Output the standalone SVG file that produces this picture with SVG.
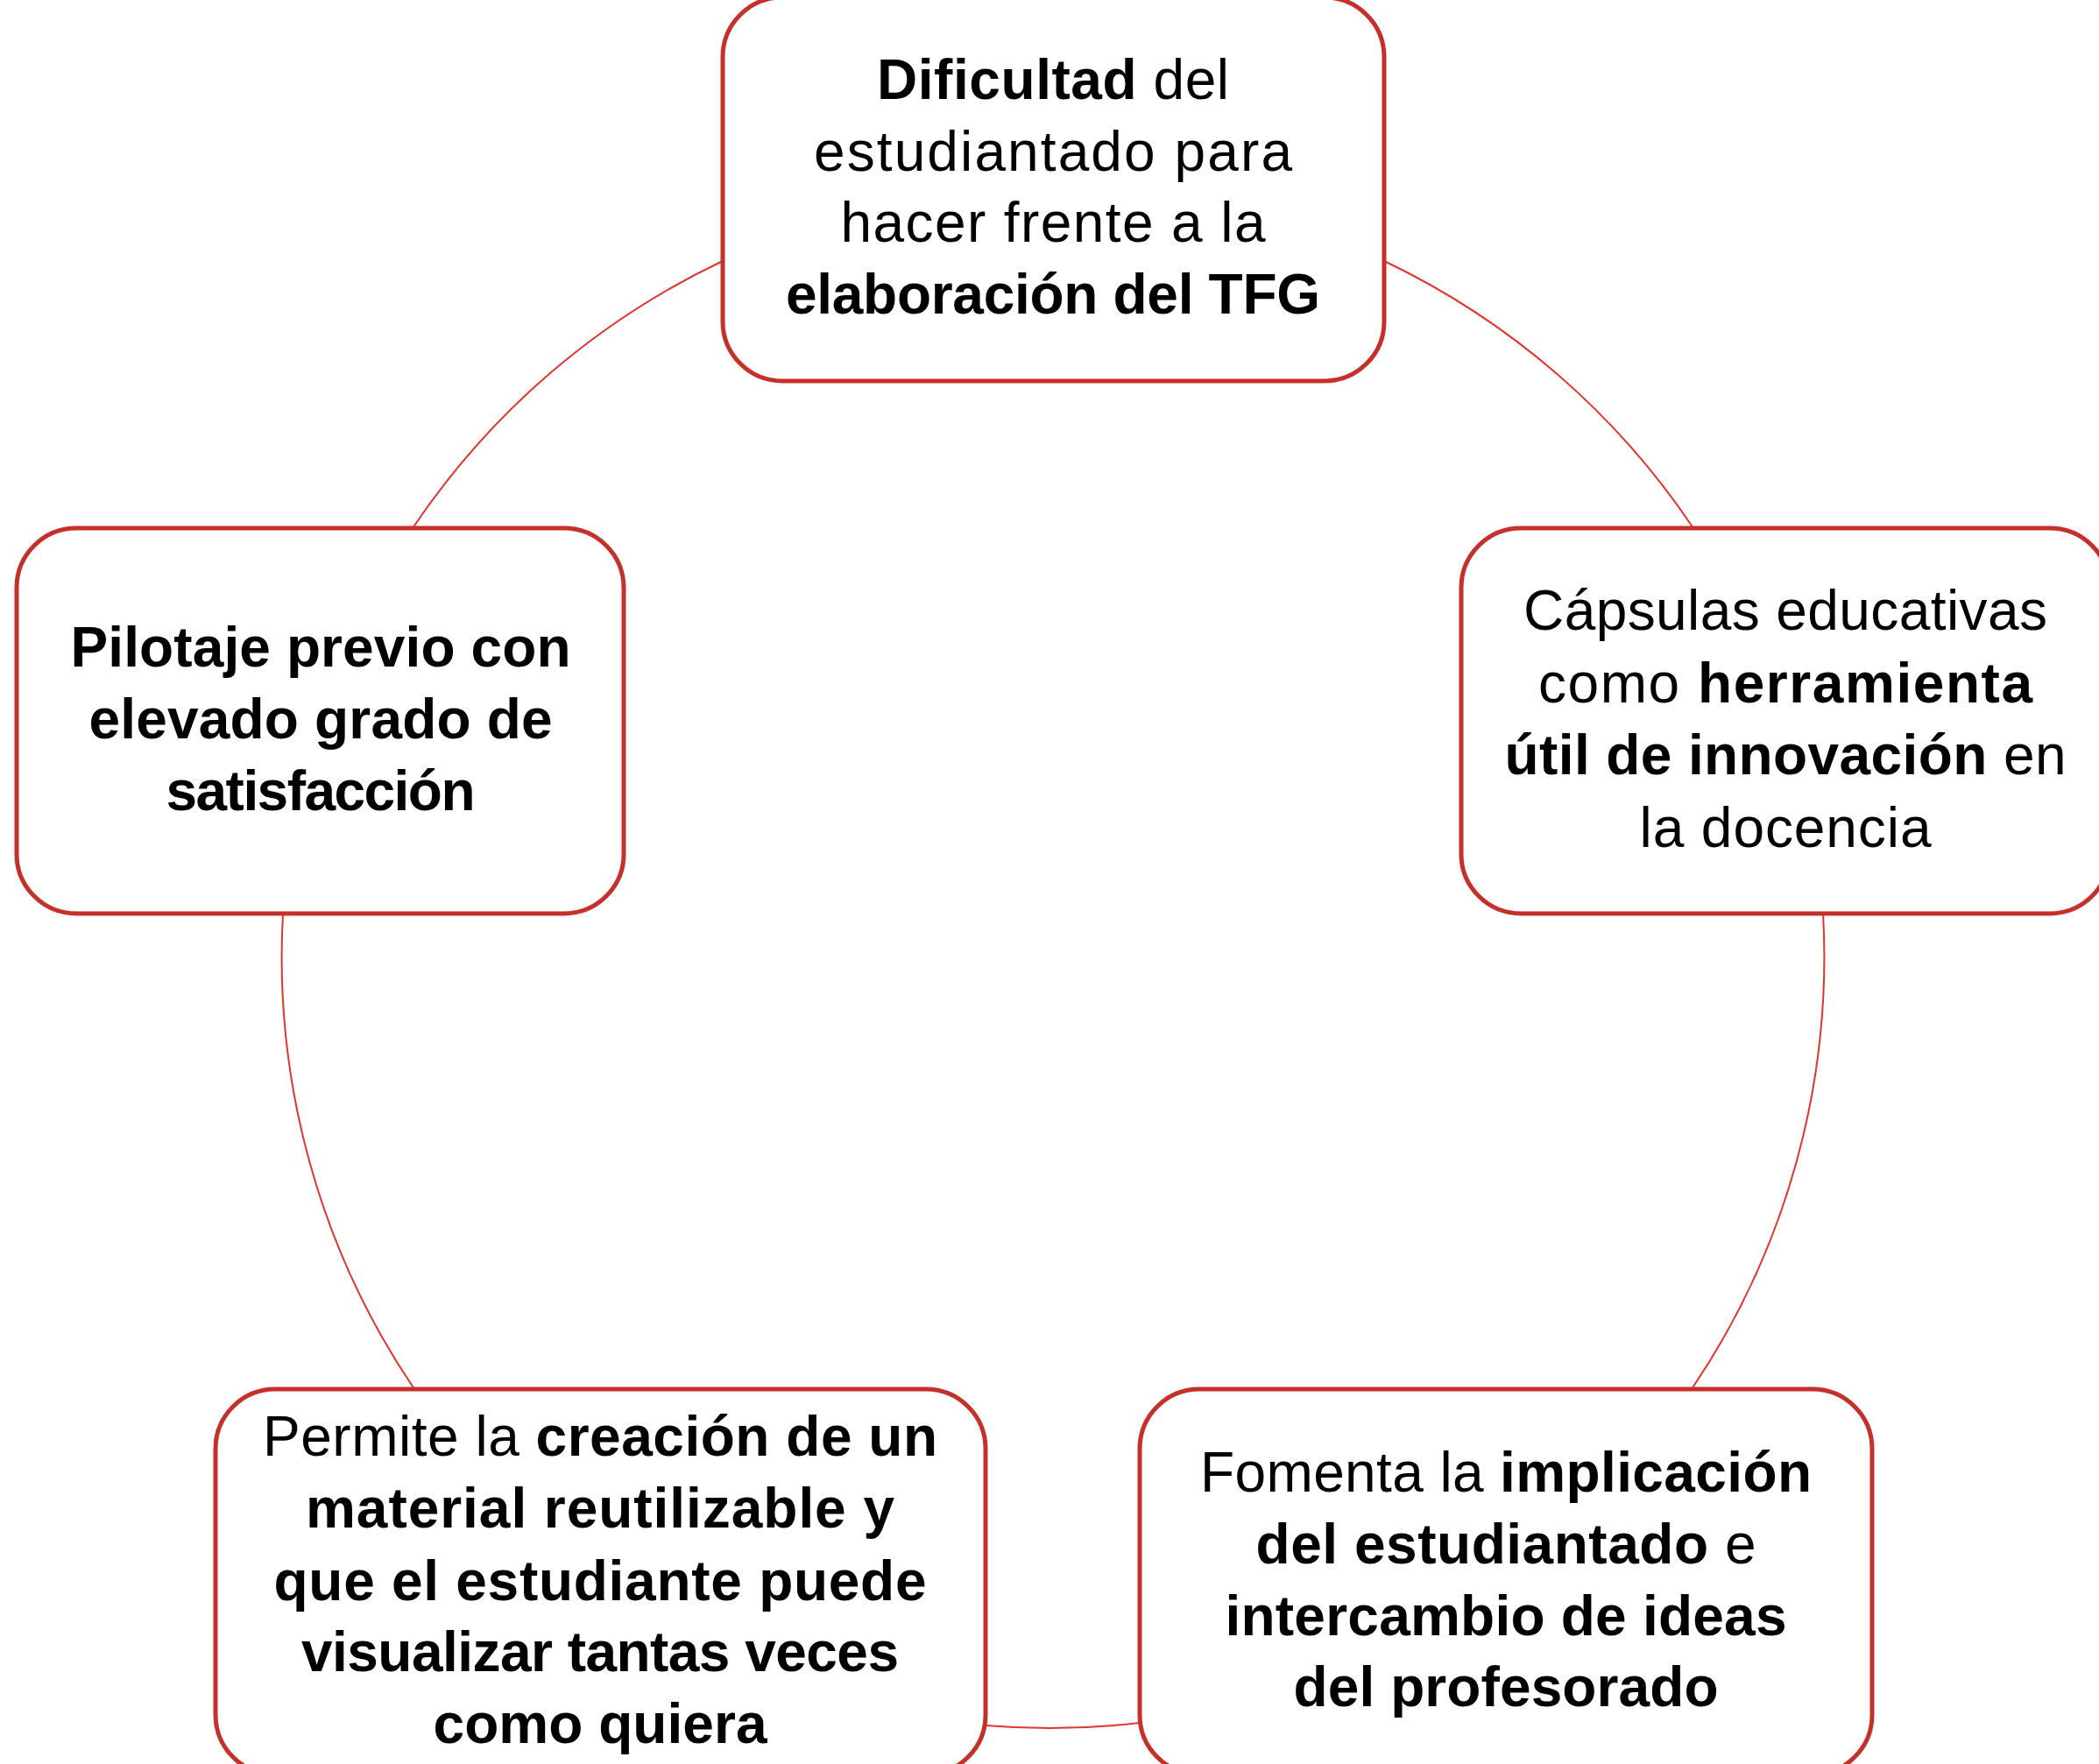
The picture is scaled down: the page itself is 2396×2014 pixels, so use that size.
<svg xmlns="http://www.w3.org/2000/svg" width="2396" height="2014" viewBox="0 0 2396 2014">
<style>
.box{fill:#ffffff;stroke:#C5302A;stroke-width:5}
.conn{fill:none;stroke:#E0352D;stroke-width:2}
text{font-family:"Liberation Sans",Arial,sans-serif;font-size:64px;fill:#000;text-anchor:middle}
.b{font-weight:bold}
</style>
<rect width="2396" height="2014" fill="#ffffff"/>
<g id="connectors">
<path class="conn" d="M471,603 A880,880 0 0 1 825,298"/>
<path class="conn" d="M1580,298 A880,880 0 0 1 1933,603"/>
<path class="conn" d="M2081,1043 A880,880 0 0 1 1931,1586"/>
<path class="conn" d="M1301,1967 A880,880 0 0 1 1125,1970"/>
<path class="conn" d="M473,1586 A880,880 0 0 1 323,1043"/>
</g>
<g id="node-top">
<rect class="box" x="825" y="-3" width="755" height="438" rx="68" ry="68"/>
<text x="1202" y="113" textLength="402"><tspan class="b">Dificultad</tspan> del</text>
<text x="1202" y="195" textLength="546">estudiantado para</text>
<text x="1202" y="276" textLength="485">hacer frente a la</text>
<text x="1202" y="358" class="b" textLength="610">elaboración del TFG</text>
</g>
<g id="node-right">
<rect class="box" x="1668" y="603" width="740" height="440" rx="68" ry="68"/>
<text x="2038" y="719" textLength="598">Cápsulas educativas</text>
<text x="2038" y="802" textLength="564">como <tspan class="b">herramienta</tspan></text>
<text x="2038" y="884" textLength="641"><tspan class="b">útil de innovación</tspan> en</text>
<text x="2038" y="967" textLength="333">la docencia</text>
</g>
<g id="node-bottom-right">
<rect class="box" x="1301" y="1586" width="836" height="440" rx="68" ry="68"/>
<text x="1719" y="1703" textLength="698">Fomenta la <tspan class="b">implicación</tspan></text>
<text x="1719" y="1785" textLength="571"><tspan class="b">del estudiantado</tspan> e</text>
<text x="1719" y="1867" class="b" textLength="641">intercambio de ideas</text>
<text x="1719" y="1948" class="b" textLength="485">del profesorado</text>
</g>
<g id="node-bottom-left">
<rect class="box" x="246" y="1586" width="879" height="440" rx="68" ry="68"/>
<text x="685" y="1662" textLength="770">Permite la <tspan class="b">creación de un</tspan></text>
<text x="685" y="1744" class="b" textLength="672">material reutilizable y</text>
<text x="685" y="1827" class="b" textLength="745">que el estudiante puede</text>
<text x="685" y="1908" class="b" textLength="682">visualizar tantas veces</text>
<text x="685" y="1990" class="b" textLength="381">como quiera</text>
</g>
<g id="node-left">
<rect class="box" x="19" y="603" width="693" height="440" rx="68" ry="68"/>
<text x="366" y="761" class="b" textLength="571">Pilotaje previo con</text>
<text x="366" y="843" class="b" textLength="529">elevado grado de</text>
<text x="366" y="925" class="b" textLength="353">satisfacción</text>
</g>
</svg>
